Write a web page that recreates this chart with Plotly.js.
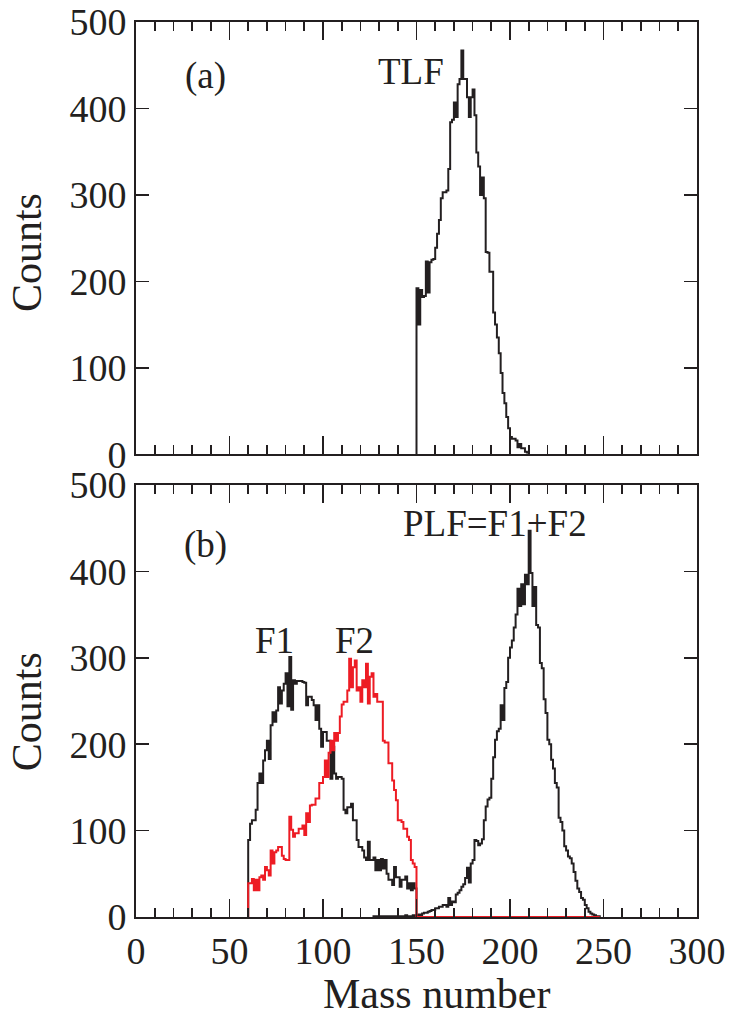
<!DOCTYPE html>
<html>
<head>
<meta charset="utf-8">
<script src="https://cdn.plot.ly/plotly-3.0.1.min.js"></script>
<style>html,body{margin:0;padding:0;background:#fff;}#chart{width:731px;height:1019px;}</style>
</head>
<body>
<div id="chart"></div>
<script>
// ---- data (counts per 1-mass-unit bin) ----
const tlfStart = 150;
const tlfCounts = [192,150,190,182,183,223,187,222,225,226,
  239,255,271,296,303,303,305,330,384,387,
  407,390,428,434,467,434,434,413,390,413,
  422,392,349,333,300,320,296,234,233,211,
  211,164,150,135,117,94,71,59,43,30,
  20,18,18,16,8,12,7,7,3,2];

const f1Start = 60;
const f1Counts = [89,108,112,112,124,155,166,155,181,193,
  204,183,222,237,226,239,266,247,262,270,
  282,244,301,240,274,270,273,273,273,272,
  271,245,255,255,251,245,228,245,218,197,
  214,214,204,204,160,197,166,160,162,162,
  160,124,120,127,127,131,112,112,89,81,
  81,77,69,66,87,66,66,69,54,66,
  54,67,56,66,50,43,43,37,58,46,
  46,35,43,43,47,33,39,31,39,33];

const f2Start = 60;
const f2Counts = [39,39,44,31,43,31,46,48,43,58,
  54,48,77,62,75,77,81,81,71,67,
  66,66,116,101,93,97,97,102,102,106,
  95,120,110,129,130,130,137,137,155,155,
  162,181,162,190,204,193,213,204,213,232,
  246,249,249,262,299,266,289,297,262,266,
  249,274,266,293,247,278,282,255,258,249,
  249,249,204,202,202,178,178,158,147,135,
  112,112,110,102,102,93,89,66,62,58,
  0,0,0,0,0,0,0,0,0,0, 0,0,0,0,0,0,0,0,0,0,
  0,0,0,0,0,0,0,0,0,0, 0,0,0,0,0,0,0,0,0,0,
  0,0,0,0,0,0,0,0,0,0, 0,0,0,0,0,0,0,0,0,0,
  0,0,0,0,0,0,0,0,0,0, 0,0,0,0,0,0,0,0,0,0,
  0,0,0,0,0,0,0,0,0,0, 0,0,0,0,0,0,0,0];

const plfStart = 127;
const plfCounts = [1,0,1,1,0,1,1,1,0,1,
  1,1,1,1,1,1,1,2,1,1,
  1,2,1,2,3,2,4,5,5,6,
  7,8,8,10,10,12,12,14,14,12,
  22,14,18,17,26,28,31,35,38,45,
  57,40,62,66,89,88,83,85,90,112,
  128,136,138,160,185,205,215,218,245,228,
  265,272,300,312,320,335,350,380,360,385,
  362,396,385,447,398,360,382,338,335,294,
  288,252,236,205,200,182,172,155,150,115,
  110,100,82,77,70,68,62,52,42,33,
  29,22,20,14,10,6,4,3,2,1,1];

const xTickVals = [0,50,100,150,200,250,300];
const yTickVals = [0,100,200,300,400,500];

// ---- build step outlines ----
function steps(start, counts) {
  const x = [start], y = [0];
  counts.forEach((c, i) => { x.push(start + i); y.push(c); });
  x.push(start + counts.length); y.push(0);
  return {x, y};
}

const BLACK = '#231f20', RED = '#ed1c24';
const FONT = 'Liberation Serif, Times New Roman, serif';

function trace(d, xa, ya, color) {
  return {x: d.x, y: d.y, xaxis: xa, yaxis: ya, type: 'scatter', mode: 'lines',
    line: {shape: 'hv', color: color, width: 2}, hoverinfo: 'skip', showlegend: false};
}

const data = [
  trace(steps(tlfStart, tlfCounts), 'x2', 'y2', BLACK),
  trace(steps(plfStart, plfCounts), 'x', 'y', BLACK),
  trace(steps(f1Start, f1Counts), 'x', 'y', BLACK),
  trace(steps(f2Start, f2Counts), 'x', 'y', RED)
];

const xCommon = {
  range: [0, 300], tickvals: xTickVals, ticks: 'inside', ticklen: 18, tickwidth: 1.6,
  tickcolor: BLACK, showline: true, linecolor: BLACK, linewidth: 1.8, mirror: 'ticks',
  showgrid: false, zeroline: false,
  minor: {dtick: 10, ticks: 'inside', ticklen: 9, tickwidth: 1.6, tickcolor: BLACK, showgrid: false},
  tickfont: {family: FONT, size: 38, color: BLACK}
};
const yCommon = {
  range: [0, 500], tickvals: yTickVals, ticks: 'inside', ticklen: 13, tickwidth: 1.6,
  tickcolor: BLACK, showline: true, linecolor: BLACK, linewidth: 1.8, mirror: 'ticks',
  showgrid: false, zeroline: false,
  tickfont: {family: FONT, size: 38, color: BLACK}
};

const annFont = {family: FONT, size: 37, color: BLACK};
const titleFont = {family: FONT, size: 42, color: BLACK};

const layout = {
  width: 731, height: 1019,
  margin: {l: 136, r: 34, t: 22, b: 102},
  paper_bgcolor: '#fff', plot_bgcolor: '#fff',
  showlegend: false,
  xaxis: Object.assign({}, xCommon, {anchor: 'y', domain: [0, 1]}),
  yaxis: Object.assign({}, yCommon, {anchor: 'x', domain: [0, 0.4827]}),
  xaxis2: Object.assign({}, xCommon, {anchor: 'y2', domain: [0, 1], matches: 'x', showticklabels: false}),
  yaxis2: Object.assign({}, yCommon, {anchor: 'x2', domain: [0.517, 1]}),
  annotations: [
    {text: '(a)', xref: 'x2', yref: 'y2', x: 37, y: 437, showarrow: false, font: annFont},
    {text: 'TLF', xref: 'x2', yref: 'y2', x: 147, y: 443, showarrow: false, font: annFont},
    {text: '(b)', xref: 'x', yref: 'y', x: 37, y: 430, showarrow: false, font: annFont},
    {text: 'PLF=F1+F2', xref: 'x', yref: 'y', x: 192, y: 456, showarrow: false, font: annFont},
    {text: 'F1', xref: 'x', yref: 'y', x: 74, y: 320, showarrow: false, font: annFont},
    {text: 'F2', xref: 'x', yref: 'y', x: 117, y: 320, showarrow: false, font: annFont},
    {text: 'Counts', xref: 'paper', yref: 'paper', x: -0.194, y: 0.742, textangle: -90,
      showarrow: false, font: titleFont, xanchor: 'center', yanchor: 'middle'},
    {text: 'Counts', xref: 'paper', yref: 'paper', x: -0.194, y: 0.229, textangle: -90,
      showarrow: false, font: titleFont, xanchor: 'center', yanchor: 'middle'},
    {text: 'Mass number', xref: 'paper', yref: 'paper', x: 0.535, y: -0.086,
      showarrow: false, font: titleFont, xanchor: 'center', yanchor: 'middle'}
  ]
};

Plotly.newPlot('chart', data, layout, {displayModeBar: false, staticPlot: true});
</script>
</body>
</html>
